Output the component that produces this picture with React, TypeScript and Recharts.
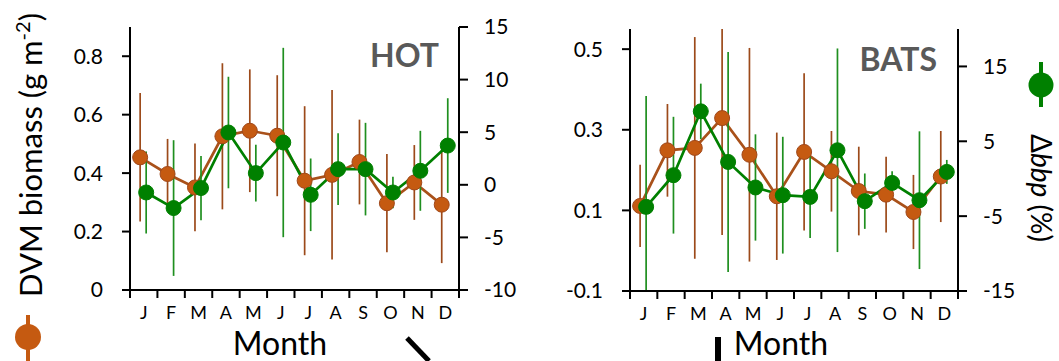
import React from "react";
import { ComposedChart, Line, XAxis, YAxis, ErrorBar } from "recharts";

const FONT = "Lato, 'Open Sans', sans-serif";

const MONTHS = ["J", "F", "M", "A", "M", "J", "J", "A", "S", "O", "N", "D"];

// HOT: DVM biomass (g m-2) and Δbbp (%) with their standard deviations
const HOT_DVM = [0.454, 0.397, 0.351, 0.526, 0.545, 0.528, 0.374, 0.394, 0.438, 0.297, 0.368, 0.292];
const HOT_DVM_SD = [0.22, 0.12, 0.15, 0.25, 0.21, 0.207, 0.255, 0.29, 0.145, 0.168, 0.128, 0.2];
const HOT_BBP = [-0.73, -2.21, -0.31, 4.97, 1.11, 4.02, -0.95, 1.49, 1.49, -0.73, 1.33, 3.73];
const HOT_BBP_SD = [3.9, 6.45, 3.05, 5.3, 2.7, 9.0, 3.45, 3.4, 4.4, 1.5, 3.8, 4.5];

// BATS
const BATS_DVM = [0.111, 0.249, 0.255, 0.329, 0.238, 0.135, 0.245, 0.197, 0.148, 0.139, 0.096, 0.184];
const BATS_DVM_SD = [0.102, 0.115, 0.275, 0.29, 0.265, 0.158, 0.195, 0.1, 0.11, 0.094, 0.092, 0.113];
const BATS_BBP = [-3.76, 0.47, 9.0, 2.24, -1.17, -2.2, -2.43, 3.8, -3.0, -0.56, -2.87, 0.91];
const BATS_BBP_SD = [14.8, 7.8, 3.7, 14.7, 7.1, 7.8, 5.5, 13.6, 3.7, 1.55, 9.2, 1.6];

const HOT_LEFT_TICKS = [0, 0.2, 0.4, 0.6, 0.8];
const HOT_RIGHT_TICKS = [-10, -5, 0, 5, 10, 15];
const BATS_LEFT_TICKS = [-0.1, 0.1, 0.3, 0.5];
const BATS_RIGHT_TICKS = [-15, -5, 5, 15];

const ORANGE = "#C55A11";
const ORANGE_LINE = "#A9511A";
const ORANGE_ERR = "#9C4A1A";
const GREEN = "#008000";
const GREEN_ERR = "#1F8F1F";

// month edges (0..12) carry tick marks, month centres (0.5..11.5) carry letters
const X_TICKS = Array.from({ length: 25 }, (_, i) => i / 2);

// small horizontal dodge so the two series don't sit on top of each other
const DVM_SHIFT = -0.13;
const BBP_SHIFT = 0.09;

function MonthTick(props: any) {
  const { x, y, payload } = props;
  const v = payload.value;
  if (Number.isInteger(v)) {
    return <line x1={x} x2={x} y1={y} y2={y + 8} stroke="#000" strokeWidth={2} />;
  }
  return (
    <text x={x} y={y + 29} textAnchor="middle" fontSize={18} fontFamily={FONT} fill="#000">
      {MONTHS[Math.floor(v)]}
    </text>
  );
}

// error whiskers stop at the frame, so clamp them to the axis range
function toRows(vals: number[], sds: number[], shift: number, domain: [number, number]) {
  return vals.map((v, i) => {
    const lo = Math.max(domain[0], v - sds[i]);
    const hi = Math.min(domain[1], v + sds[i]);
    return { x: i + 0.5 + shift, v, err: [v - lo, hi - v] };
  });
}

type PanelProps = {
  left: number;
  width: number;
  top: number;
  leftAxisWidth: number;
  rightAxisWidth: number;
  bottomHeight: number;
  dvm: number[];
  dvmSd: number[];
  bbp: number[];
  bbpSd: number[];
  leftDomain: [number, number];
  leftTicks: number[];
  rightDomain: [number, number];
  rightTicks: number[];
};

function Panel(p: PanelProps) {
  const dvmData = toRows(p.dvm, p.dvmSd, DVM_SHIFT, p.leftDomain);
  const bbpData = toRows(p.bbp, p.bbpSd, BBP_SHIFT, p.rightDomain);
  const axisLine = { stroke: "#000", strokeWidth: 2 };
  const tickStyle = { fill: "#000", fontSize: 21, fontFamily: FONT };

  return (
    <div style={{ position: "absolute", left: p.left, top: 0 }}>
      <ComposedChart
        width={p.width}
        height={361}
        margin={{ top: p.top, right: 0, bottom: 0, left: 0 }}
      >
        <XAxis
          xAxisId="b"
          type="number"
          dataKey="x"
          domain={[0, 12]}
          allowDataOverflow
          ticks={X_TICKS}
          interval={0}
          tick={<MonthTick />}
          tickLine={false}
          tickSize={0}
          tickMargin={0}
          axisLine={axisLine}
          height={p.bottomHeight}
        />
        <XAxis
          xAxisId="t"
          orientation="top"
          type="number"
          domain={[0, 12]}
          allowDataOverflow
          tick={false}
          tickLine={false}
          axisLine={axisLine}
          height={0}
        />
        <YAxis
          yAxisId="l"
          domain={p.leftDomain}
          allowDataOverflow
          ticks={p.leftTicks}
          interval={0}
          width={p.leftAxisWidth}
          tick={tickStyle}
          tickSize={8}
          tickMargin={19}
          tickLine={axisLine}
          axisLine={axisLine}
        />
        <YAxis
          yAxisId="r"
          orientation="right"
          domain={p.rightDomain}
          allowDataOverflow
          ticks={p.rightTicks}
          interval={0}
          width={p.rightAxisWidth}
          tick={tickStyle}
          tickSize={9}
          tickMargin={16}
          tickLine={axisLine}
          axisLine={axisLine}
        />
        <Line
          data={dvmData}
          xAxisId="b"
          yAxisId="l"
          dataKey="v"
          stroke={ORANGE_LINE}
          strokeWidth={2.7}
          dot={{ r: 7.5, fill: ORANGE, stroke: "#A0481A", strokeWidth: 1 }}
          isAnimationActive={false}
        >
          <ErrorBar dataKey="err" width={0} stroke={ORANGE_ERR} strokeWidth={1.7} direction="y" />
        </Line>
        <Line
          data={bbpData}
          xAxisId="b"
          yAxisId="r"
          dataKey="v"
          stroke={GREEN}
          strokeWidth={2.7}
          dot={{ r: 7.5, fill: GREEN, stroke: GREEN, strokeWidth: 1 }}
          isAnimationActive={false}
        >
          <ErrorBar dataKey="err" width={0} stroke={GREEN_ERR} strokeWidth={1.7} direction="y" />
        </Line>
      </ComposedChart>
    </div>
  );
}

export default function App() {
  return (
    <div style={{ position: "absolute", left: 0, top: 0, width: 1059, height: 361, background: "#fff", overflow: "hidden" }}>
      <Panel
        left={0}
        width={530}
        top={27}
        leftAxisWidth={130}
        rightAxisWidth={71}
        bottomHeight={71}
        dvm={HOT_DVM}
        dvmSd={HOT_DVM_SD}
        bbp={HOT_BBP}
        bbpSd={HOT_BBP_SD}
        leftDomain={[0, 0.9]}
        leftTicks={HOT_LEFT_TICKS}
        rightDomain={[-10, 15]}
        rightTicks={HOT_RIGHT_TICKS}
      />
      <Panel
        left={530}
        width={490}
        top={29}
        leftAxisWidth={100}
        rightAxisWidth={62}
        bottomHeight={70}
        dvm={BATS_DVM}
        dvmSd={BATS_DVM_SD}
        bbp={BATS_BBP}
        bbpSd={BATS_BBP_SD}
        leftDomain={[-0.1, 0.55]}
        leftTicks={BATS_LEFT_TICKS}
        rightDomain={[-15, 20]}
        rightTicks={BATS_RIGHT_TICKS}
      />
      <svg
        width={1059}
        height={361}
        style={{ position: "absolute", left: 0, top: 0, pointerEvents: "none" }}
        fontFamily={FONT}
      >
        <text x={439} y={67} textAnchor="end" fontSize={32} fontWeight="bold" fill="#595959">HOT</text>
        <text x={937} y={71} textAnchor="end" fontSize={32} fontWeight="bold" fill="#595959">BATS</text>

        <text x={280} y={355} textAnchor="middle" fontSize={32} fill="#000">Month</text>
        <text x={781} y={355} textAnchor="middle" fontSize={32} fill="#000">Month</text>

        {/* left axis title with its orange key */}
        <text transform="translate(42,155) rotate(-90)" textAnchor="middle" fontSize={31} fill="#000">
          DVM biomass (g m<tspan dy={-12} fontSize={20}>-2</tspan><tspan dy={12}>)</tspan>
        </text>
        <line x1={28} x2={28} y1={315} y2={361} stroke={ORANGE} strokeWidth={4} />
        <circle cx={28} cy={337} r={13} fill={ORANGE} />

        {/* right axis title with its green key */}
        <text transform="translate(1031,188) rotate(90)" textAnchor="middle" fontSize={28} fill="#000">
          Δ<tspan fontStyle="italic">bbp</tspan> (%)
        </text>
        <line x1={1041} x2={1041} y1={62} y2={107} stroke={GREEN} strokeWidth={4} />
        <circle cx={1041} cy={85} r={12.5} fill={GREEN} />

        {/* pointer strokes along the bottom edge */}
        <line x1={407} y1={338} x2={429} y2={361} stroke="#000" strokeWidth={5} />
        <rect x={715} y={337} width={6} height={24} fill="#000" />
      </svg>
    </div>
  );
}
